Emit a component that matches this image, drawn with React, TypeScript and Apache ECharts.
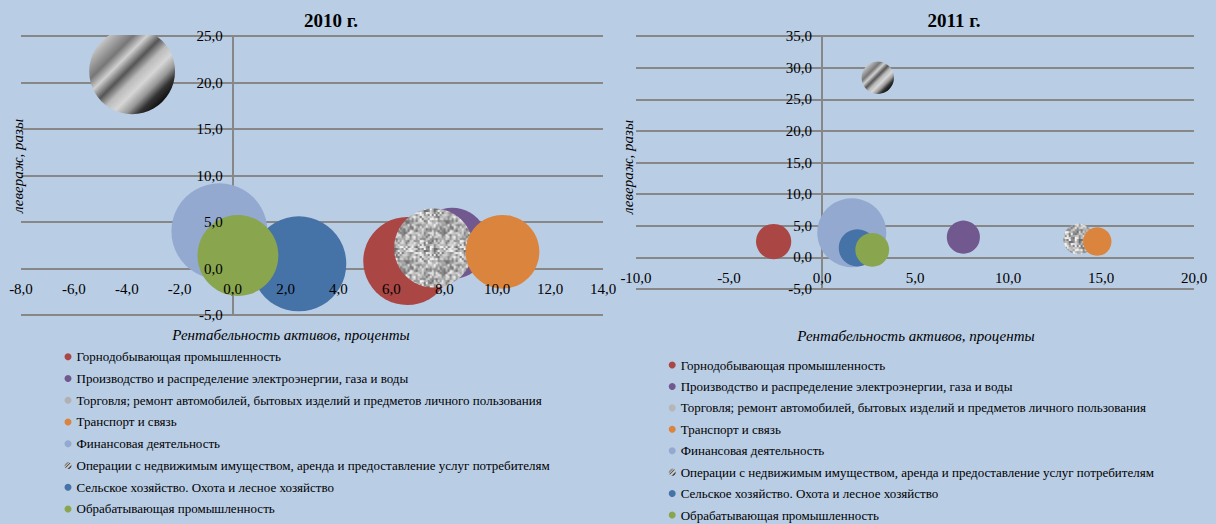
import React, { useEffect, useRef } from "react";
import * as echarts from "echarts";

// ---- data ----
const industries = [
  "Горнодобывающая промышленность",
  "Производство и распределение электроэнергии, газа и воды",
  "Торговля; ремонт автомобилей, бытовых изделий и предметов личного пользования",
  "Транспорт и связь",
  "Финансовая деятельность",
  "Операции с недвижимым имуществом, аренда и предоставление услуг потребителям",
  "Сельское хозяйство. Охота и лесное хозяйство",
  "Обрабатывающая промышленность",
];

// Рентабельность активов, % (x), левераж, раз (y), относительный размер пузырька
const roa2010 = [6.6, 8.3, 7.6, 10.2, -0.5, -3.8, 2.5, 0.2];
const lev2010 = [0.8, 2.7, 2.2, 1.8, 4.0, 21.2, 0.5, 1.4];
const size2010 = [84, 55, 68, 59, 100, 80, 98, 71];

const roa2011 = [-2.6, 7.6, 13.8, 14.8, 1.6, 3.0, 1.9, 2.7];
const lev2011 = [2.5, 3.2, 2.9, 2.5, 3.9, 28.4, 1.5, 1.2];
const size2011 = [26, 23, 20, 17, 100, 22, 29, 24];

const titles = ["2010 г.", "2011 г."];
const xAxisTitle = "Рентабельность активов, проценты";
const yAxisTitle = "левераж, разы";

// axis ranges: [min, max, step]
const xRange2010 = [-8, 14, 2];
const yRange2010 = [-5, 25, 5];
const xRange2011 = [-10, 20, 5];
const yRange2011 = [-5, 35, 5];

// ---- styles / layout ----
const BG = "#B9CDE5";
const GRID_COLOR = "#878787";
const FONT = '"Liberation Serif", "Times New Roman", serif';
const PLOTS = [
  { left: 21, top: 36, width: 582, height: 279, maxD: 96, xr: xRange2010, yr: yRange2010 },
  { left: 636, top: 36, width: 558, height: 253, maxD: 69, xr: xRange2011, yr: yRange2011 },
];

function makeGranite(): HTMLCanvasElement {
  const c = document.createElement("canvas");
  c.width = 40;
  c.height = 40;
  const ctx = c.getContext("2d")!;
  for (let y = 0; y < 40; y += 2) {
    for (let x = 0; x < 40; x += 2) {
      const h = Math.sin(x * 12.9898 + y * 78.233) * 43758.5453;
      const f = h - Math.floor(h);
      const g = Math.round(105 + f * 145);
      ctx.fillStyle = `rgb(${g},${g},${g})`;
      ctx.fillRect(x, y, 2, 2);
    }
  }
  return c;
}

const stripes = {
  type: "linear",
  x: 0,
  y: 0,
  x2: 1,
  y2: 1,
  colorStops: [
    { offset: 0, color: "#222" },
    { offset: 0.08, color: "#eeeeee" },
    { offset: 0.2, color: "#aaaaaa" },
    { offset: 0.3, color: "#777777" },
    { offset: 0.38, color: "#d0d0d0" },
    { offset: 0.47, color: "#555555" },
    { offset: 0.55, color: "#bbbbbb" },
    { offset: 0.63, color: "#d6d6d6" },
    { offset: 0.71, color: "#999999" },
    { offset: 0.78, color: "#333333" },
    { offset: 0.85, color: "#111111" },
    { offset: 0.9, color: "#dddddd" },
    { offset: 1, color: "#ffffff" },
  ],
};

const fmt = (v: number) => v.toFixed(1).replace(".", ",");

export default function App() {
  const ref = useRef<HTMLDivElement>(null);

  useEffect(() => {
    if (!ref.current) return;
    const chart = echarts.init(ref.current, null, { renderer: "svg" });
    const granite = makeGranite();
    const baseFills: any[] = [
      "#AA4643",
      "#71588F",
      "granite",
      "#DB843D",
      "#93A9CF",
      stripes,
      "#4572A7",
      "#89A54E",
    ];

    const grids: any[] = [];
    const xAxes: any[] = [];
    const yAxes: any[] = [];
    const labelStyle = (margin: number) => ({
      show: true,
      formatter: fmt,
      fontFamily: FONT,
      fontSize: 15,
      color: "#000",
      margin,
      showMinLabel: true,
      showMaxLabel: true,
    });
    const hidden = (gridIndex: number) => ({ type: "value", gridIndex, show: false, min: 0, max: 1 });

    PLOTS.forEach((p) => {
      const [xmin, xmax, xstep] = p.xr;
      const [ymin, ymax, ystep] = p.yr;
      const zeroX = p.left + ((0 - xmin) / (xmax - xmin)) * p.width;
      const zeroY = p.top + ((ymax - 0) / (ymax - ymin)) * p.height;
      const gMain = grids.length;
      // main plot area: horizontal grid lines + vertical axis line at x = 0
      grids.push({ left: p.left, top: p.top, width: p.width, height: p.height });
      xAxes.push({
        type: "value", gridIndex: gMain, min: xmin, max: xmax, interval: xstep,
        axisLine: { show: false }, axisTick: { show: false }, axisLabel: { show: false },
        splitLine: { show: false }, z: 0,
      });
      yAxes.push({
        type: "value", gridIndex: gMain, min: ymin, max: ymax, interval: ystep,
        axisLine: { show: true, onZero: true, lineStyle: { color: GRID_COLOR, width: 2 } },
        axisTick: { show: false }, axisLabel: { show: false },
        splitLine: { show: true, lineStyle: { color: GRID_COLOR, width: 2 } }, z: 0,
      });
      // x tick labels along the zero line (drawn above bubbles)
      const gX = grids.length;
      grids.push({ left: p.left, top: p.top, width: p.width, height: zeroY - p.top });
      xAxes.push({
        type: "value", gridIndex: gX, min: xmin, max: xmax, interval: xstep, position: "bottom",
        axisLine: { show: false, onZero: false }, axisTick: { show: false },
        splitLine: { show: false }, axisLabel: labelStyle(13), z: 5,
      });
      yAxes.push(hidden(gX));
      // y tick labels along x = 0 (drawn above bubbles)
      const gY = grids.length;
      grids.push({ left: zeroX, top: p.top, width: p.left + p.width - zeroX, height: p.height });
      xAxes.push(hidden(gY));
      yAxes.push({
        type: "value", gridIndex: gY, min: ymin, max: ymax, interval: ystep, position: "left",
        axisLine: { show: false, onZero: false }, axisTick: { show: false },
        splitLine: { show: false }, axisLabel: labelStyle(10), z: 5,
      });
    });
    grids.forEach((g) => {
      g.containLabel = false;
      g.outerBoundsMode = "none";
    });

    const charts = [
      { roa: roa2010, lev: lev2010, size: size2010 },
      { roa: roa2011, lev: lev2011, size: size2011 },
    ];

    const series: any[] = [];
    charts.forEach((c, ci) => {
      const maxD = PLOTS[ci].maxD;
      industries.forEach((name, i) => {
        const d = maxD * Math.sqrt(c.size[i] / 100);
        let fill = baseFills[i];
        if (fill === "granite") {
          const s = 2 / d;
          fill = { image: granite, repeat: "repeat", imageWidth: 40, imageHeight: 40, scaleX: s, scaleY: s };
        }
        series.push({
          type: "scatter",
          name,
          xAxisIndex: ci * 3,
          yAxisIndex: ci * 3,
          data: [[c.roa[i], c.lev[i], c.size[i]]],
          symbol: "circle",
          symbolSize: (v: number[]) => maxD * Math.sqrt(v[2] / 100),
          itemStyle: { color: fill, opacity: 1 },
          emphasis: { disabled: true },
          silent: true,
          z: 2,
        });
      });
    });

    const legendBase = {
      orient: "vertical",
      icon: "circle",
      itemWidth: 7,
      itemHeight: 7,
      padding: 0,
      height: 200,
      selectedMode: false,
      data: industries,
      textStyle: { fontFamily: FONT, fontSize: 13, color: "#000", lineHeight: 14 },
    };

    const nameFont = { fontFamily: FONT, fontStyle: "italic", fontSize: 15, fill: "#000" };
    const titleStyle = { fontFamily: FONT, fontSize: 19, fontWeight: "bold", color: "#000" };

    const option: any = {
      animation: false,
      backgroundColor: BG,
      textStyle: { fontFamily: FONT },
      title: [
        { text: titles[0], left: 326, top: 6, textAlign: "center", textStyle: titleStyle, z: 6 },
        { text: titles[1], left: 949, top: 6, textAlign: "center", textStyle: titleStyle, z: 6 },
      ],
      grid: grids,
      xAxis: xAxes,
      yAxis: yAxes,
      legend: [
        { ...legendBase, left: 64.5, top: 349.7, itemGap: 7.75 },
        { ...legendBase, left: 668.7, top: 358, itemGap: 7.43 },
      ],
      graphic: [
        {
          type: "rect",
          shape: { x: 0, y: 0, width: 612, height: 35 },
          style: { fill: BG },
          z: 4,
          silent: true,
        },
        {
          type: "text", x: 17.5, y: 166, rotation: Math.PI / 2, z: 6,
          style: { ...nameFont, text: yAxisTitle, align: "center", verticalAlign: "middle" },
        },
        {
          type: "text", x: 628, y: 167, rotation: Math.PI / 2, z: 6,
          style: { ...nameFont, text: yAxisTitle, align: "center", verticalAlign: "middle" },
        },
        {
          type: "text", x: 291, y: 335, z: 6,
          style: { ...nameFont, text: xAxisTitle, align: "center", verticalAlign: "middle" },
        },
        {
          type: "text", x: 916, y: 336, z: 6,
          style: { ...nameFont, text: xAxisTitle, align: "center", verticalAlign: "middle" },
        },
      ],
      series,
    };

    chart.setOption(option);
    return () => chart.dispose();
  }, []);

  return (
    <div
      ref={ref}
      style={{ position: "fixed", left: 0, top: 0, width: 1216, height: 524 }}
    />
  );
}
